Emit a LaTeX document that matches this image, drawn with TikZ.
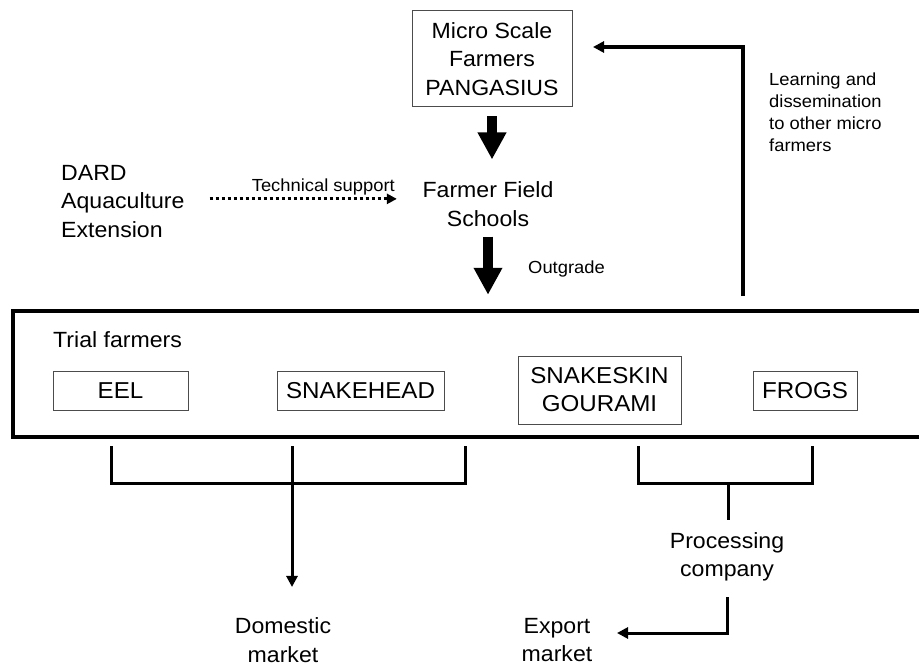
\documentclass[tikz,border=0pt]{standalone}
\usepackage{fontspec}
\setmainfont{Liberation Sans}[FakeStretch=1.05]
\usetikzlibrary{arrows.meta,calc}
\begin{document}
\begin{tikzpicture}[x=1pt,y=-1pt,
  lbl/.style={font=\fontsize{22}{28.5}\selectfont, align=center, inner sep=0pt},
  note/.style={font=\fontsize{17.5}{22}\selectfont, align=left, inner sep=0pt},
  spbox/.style={draw=black!70, line width=1pt, font=\fontsize{23}{28}\selectfont,
    align=center, inner sep=0pt, minimum height=39pt},
  fatarrow/.style={line width=10pt, -{Triangle[length=27pt,width=27pt]}},
  feed/.style={line width=4pt, -{Triangle[length=11pt,width=11pt]}},
  flow/.style={line width=3pt, line join=miter},
  flowarrow/.style={line width=3pt, -{Triangle[length=11pt,width=11pt]}},
  dotarrow/.style={line width=3pt, dash pattern=on 3pt off 3pt,
    -{Triangle[length=10pt,width=10pt]}}
]
\useasboundingbox (0,0) rectangle (919,666);
\fill[white] (0,0) rectangle (919,666);

% upper part: pangasius farmers, field schools, extension service
\node[lbl, draw=black!70, line width=1pt, minimum width=160pt, minimum height=96pt]
  (micro) at (492,59) {Micro Scale\\Farmers\\PANGASIUS};
\node[lbl] (ffs) at (488,204) {Farmer Field\\Schools};
\node[lbl, align=left, anchor=north west] (dard) at (61,165) {DARD\\Aquaculture\\Extension};
\node[note, anchor=base east] (tech) at (395,192) {Technical support};
\node[note, anchor=base west] (outg) at (528,273) {Outgrade};
\node[note, anchor=north west] (learn) at (769,73)
  {Learning and\\dissemination\\to other micro\\farmers};

% trial farmers frame and species boxes
\node[draw, line width=4.5pt, minimum width=922pt, minimum height=126pt, inner sep=0pt]
  (trial) at (474,374) {};
\node[lbl, anchor=base west] (trialtxt) at (53,347) {Trial farmers};
\node[spbox, minimum width=135pt] (eel) at (120.5,390.5) {EEL};
\node[spbox, minimum width=167pt] (snakehead) at (360.5,390.5) {SNAKEHEAD};
\node[spbox, minimum width=163pt, minimum height=68pt] (gourami) at (599.5,390) {SNAKESKIN\\GOURAMI};
\node[spbox, minimum width=104pt] (frogs) at (805,390.5) {FROGS};

% markets
\node[lbl] (domestic) at (283,640) {Domestic\\market};
\node[lbl] (proc) at (727,557) {Processing\\company};
\node[lbl] (export) at (557,640) {Export\\market};

% main flow arrows
\draw[fatarrow, shorten <=9pt, shorten >=22pt] (micro.south) -- (micro.south |- ffs.north);
\draw[fatarrow, shorten <=10pt, shorten >=14pt] (ffs.south) -- (ffs.south |- trial.north);
\draw[dotarrow, shorten <=25pt, shorten >=25.5pt]
  ([yshift=2.5pt]dard.east) -- ([yshift=2.5pt]dard.east -| ffs.west);

% feedback to micro farmers
\coordinate (fbfoot) at (743,296);
\draw[feed, shorten >=20.5pt] (fbfoot) |- ([yshift=12pt]micro.east);

% domestic market bracket
\coordinate (dl) at (111,446);
\coordinate (dlb) at (111,483);
\coordinate (drb) at (465,483);
\coordinate (dr) at (465,446);
\coordinate (dm) at (292,446);
\draw[flow] (dl) -- (dlb) -- (drb) -- (dr);
\draw[flowarrow, shorten >=30.5pt] (dm) -- (dm |- domestic.north);

% export bracket via processing company
\coordinate (pl) at (638,446);
\coordinate (plb) at (638,483);
\coordinate (prb) at (812,483);
\coordinate (pr) at (812,446);
\coordinate (pm) at (728,483);
\draw[flow] (pl) -- (plb) -- (prb) -- (pr);
\draw[flow, shorten >=12.5pt] (pm) -- (pm |- proc.north);
\draw[flowarrow, shorten <=15.5pt, shorten >=24.5pt]
  (proc.south) |- ([yshift=7pt]export.east);
\end{tikzpicture}
\end{document}
